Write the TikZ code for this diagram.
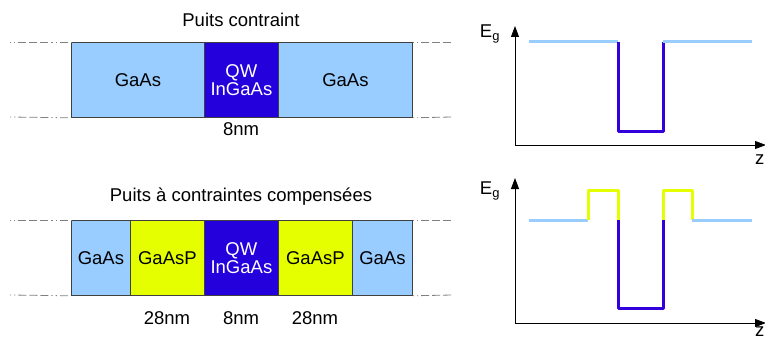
\documentclass[tikz,border=0pt]{standalone}
\usepackage{fontspec}
\setmainfont{Liberation Sans}
\usetikzlibrary{arrows.meta}
\definecolor{lblue}{HTML}{99CCFF}
\definecolor{qwblue}{HTML}{2300DC}
\definecolor{lyellow}{HTML}{E6FF00}
\definecolor{lineblue}{HTML}{3300DD}
\definecolor{edgegray}{HTML}{404040}
\tikzset{
  layer/.style={draw=edgegray, line width=0.8pt, inner sep=0pt, minimum height=75pt, anchor=north west, font=\fontsize{18.5}{19}\selectfont, text=black},
  gaas/.style={layer, fill=lblue},
  gaasp/.style={layer, fill=lyellow},
  qw/.style={layer, fill=qwblue, text=white, align=center},
  lbl/.style={font=\fontsize{18.5}{19}\selectfont, inner sep=0pt},
  guide/.style={draw=gray, line width=0.8pt, dash pattern=on 1.2pt off 3pt on 1.2pt off 3pt on 8pt off 3pt on 8pt off 3pt on 8pt off 3pt},
  axis/.style={draw=black, line width=0.8pt, -{Triangle[length=11pt,width=8pt]}},
  bandl/.style={draw=lblue, line width=3pt},
  bandq/.style={draw=lineblue, line width=3pt},
  bandy/.style={draw=lyellow, line width=3pt},
}
\begin{document}
\begin{tikzpicture}[x=1pt,y=-1pt]
\useasboundingbox (0,0) rectangle (765,345);
% ---------- top structure ----------
\node[lbl] (t1) at (241,20) {Puits contraint};
\node[gaas, minimum width=133pt] (a1) at (71,42) {GaAs};
\node[qw, minimum width=74pt] (a2) at (204,42) {QW\\[-1pt]InGaAs};
\node[gaas, minimum width=134pt] (a3) at (278,42) {GaAs};
\node[lbl] (n1) at (241,129) {8nm};
\coordinate (gl1) at (10,42);
\coordinate (gl2) at (10,117);
\coordinate (gr1) at (452,42);
\coordinate (gr2) at (452,117);
\draw[guide] (gl1) -- (a1.north west);
\draw[guide] (gl2) -- (a1.south west);
\draw[guide] (a3.north east) -- (gr1);
\draw[guide] (a3.south east) -- (gr2);
% ---------- bottom structure ----------
\node[lbl] (t2) at (241,197) {Puits à contraintes compensées};
\node[gaas, minimum width=59pt] (b1) at (71,220) {GaAs};
\node[gaasp, minimum width=74pt] (b2) at (130,220) {GaAsP};
\node[qw, minimum width=74pt] (b3) at (204,220) {QW\\[-1pt]InGaAs};
\node[gaasp, minimum width=74pt] (b4) at (278,220) {GaAsP};
\node[gaas, minimum width=60pt] (b5) at (352,220) {GaAs};
\node[lbl] (m1) at (167,318) {28nm};
\node[lbl] (m2) at (241,318) {8nm};
\node[lbl] (m3) at (315,318) {28nm};
\coordinate (hl1) at (10,220);
\coordinate (hl2) at (10,295);
\coordinate (hr1) at (452,220);
\coordinate (hr2) at (452,295);
\draw[guide] (hl1) -- (b1.north west);
\draw[guide] (hl2) -- (b1.south west);
\draw[guide] (b5.north east) -- (hr1);
\draw[guide] (b5.south east) -- (hr2);
% ---------- top band diagram ----------
\coordinate (o1) at (515,145);
\coordinate (y1) at (515,26);
\coordinate (x1) at (766,145);
\draw[axis] (o1) -- (y1);
\draw[axis] (o1) -- (x1);
\node[lbl] (e1) at (490,34) {E\textsubscript{g}};
\node[lbl, anchor=west] (z1) at (755,160) {z};
\draw[bandl] (529,42) -- (618,42);
\draw[bandq, line join=round] (618,42) -- (618,131) -- (663,131) -- (663,42);
\draw[bandl] (663,42) -- (752,42);
% ---------- bottom band diagram ----------
\coordinate (o2) at (515,323);
\coordinate (y2) at (515,178);
\coordinate (x2) at (766,323);
\draw[axis] (o2) -- (y2);
\draw[axis] (o2) -- (x2);
\node[lbl] (e2) at (490,191) {E\textsubscript{g}};
\node[lbl, anchor=west] (z2) at (755,332) {z};
\draw[bandl] (529,220) -- (588,220);
\draw[bandy, line join=round] (588,220) -- (588,190) -- (618,190) -- (618,220);
\draw[bandq, line join=round] (618,220) -- (618,308) -- (663,308) -- (663,220);
\draw[bandy, line join=round] (663,220) -- (663,190) -- (692,190) -- (692,220);
\draw[bandl] (692,220) -- (752,220);
\end{tikzpicture}
\end{document}
